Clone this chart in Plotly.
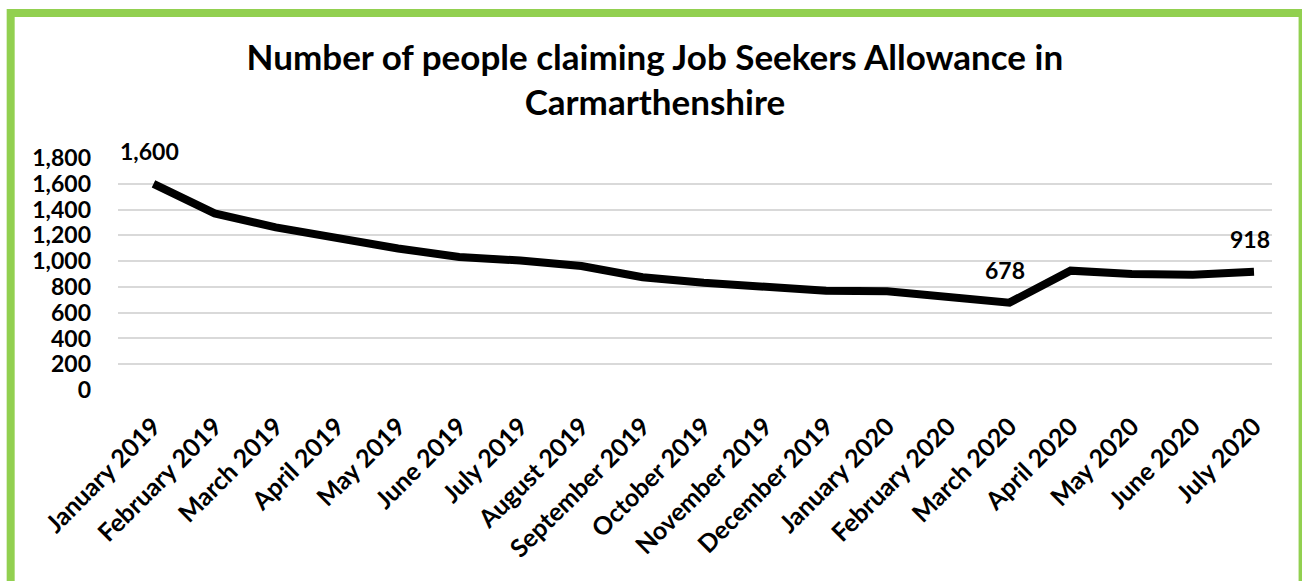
import plotly.graph_objects as go

months = ["January 2019", "February 2019", "March 2019", "April 2019", "May 2019",
          "June 2019", "July 2019", "August 2019", "September 2019", "October 2019",
          "November 2019", "December 2019", "January 2020", "February 2020",
          "March 2020", "April 2020", "May 2020", "June 2020", "July 2020"]
claimants = [1600, 1370, 1262, 1174, 1098, 1032, 1005, 962, 875, 832,
             802, 770, 766, 720, 678, 926, 900, 895, 918]
labelled = ["January 2019", "March 2020", "July 2020"]

y_ticks = list(range(0, 2000, 200))

FONT = "Lato"

fig = go.Figure()
fig.add_trace(go.Scatter(x=months, y=claimants, mode="lines",
                         line=dict(color="black", width=8), hoverinfo="x+y"))

for m in labelled:
    v = claimants[months.index(m)]
    fig.add_annotation(x=m, y=v, text=f"{v:,}", showarrow=False, yshift=33, xshift=-4,
                       font=dict(family=FONT, size=23, color="black", weight="bold"))

fig.update_layout(
    width=1302, height=581,
    margin=dict(l=118, r=30, t=158, b=191, autoexpand=False),
    paper_bgcolor="white", plot_bgcolor="white",
    showlegend=False,
    title=dict(text="Number of people claiming Job Seekers Allowance in<br>Carmarthenshire",
               x=0.503, xanchor="center", y=0.88, yanchor="top",
               font=dict(family=FONT, size=35, color="black", weight="bold")),
    xaxis=dict(type="category", tickangle=-45, showgrid=False, showline=False,
               automargin=False, ticks="", ticklabelstandoff=16,
               tickfont=dict(family=FONT, size=25, color="black", weight="bold")),
    yaxis=dict(range=[0, 1800], tickvals=y_ticks, tickformat=",", showline=False,
               automargin=False,
               gridcolor="#d9d9d9", gridwidth=1.5, zeroline=False, ticks="",
               ticklabelstandoff=26,
               tickfont=dict(family=FONT, size=23, color="black", weight="bold")),
    shapes=[dict(type="rect", xref="paper", yref="paper",
                 x0=-0.093, x1=1.0265, y0=-0.95, y1=1.625,
                 line=dict(color="#92D050", width=8), layer="below")],
)

fig.write_html("out.html", config={"displayModeBar": False})
with open("out.html", encoding="utf-8") as f:
    html = f.read()
html = html.replace("<head>", "<head><style>html,body{margin:0;padding:0;overflow:hidden;}</style>", 1)
with open("out.html", "w", encoding="utf-8") as f:
    f.write(html)
